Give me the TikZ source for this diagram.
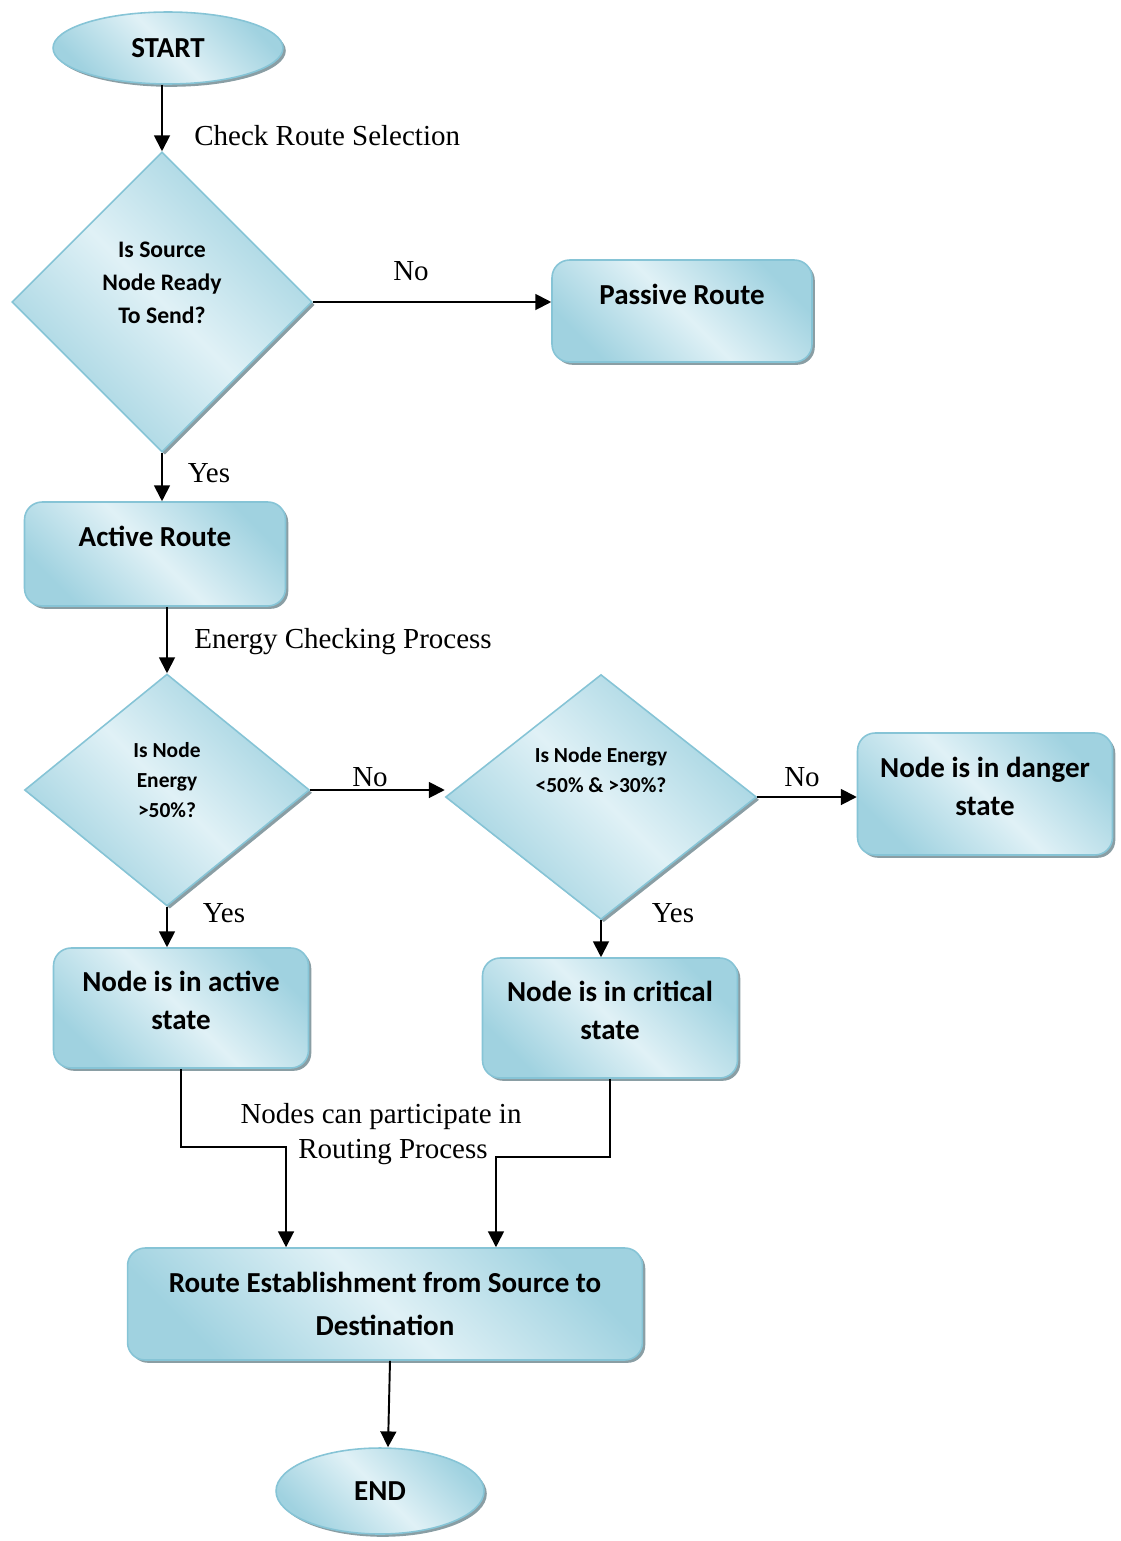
\documentclass[tikz,border=0pt]{standalone}
\usepackage{fontspec}
\setmainfont{Liberation Serif}
\newfontfamily\calib{Carlito}
\usetikzlibrary{shapes.geometric,shadows,arrows.meta}

\definecolor{edgeblue}{RGB}{134,196,214}
\definecolor{darkblue}{RGB}{160,210,224}
\definecolor{lightblue}{RGB}{224,241,246}
\definecolor{shadowgray}{RGB}{138,158,164}

\tikzset{
  blockfill/.style={draw=edgeblue, line width=0.9pt, top color=darkblue, bottom color=darkblue,
    middle color=lightblue, shading angle=-45,
    drop shadow={shadow xshift=1.6pt, shadow yshift=-1.6pt, fill=shadowgray, opacity=1}},
  terminal/.style={ellipse, blockfill, inner sep=0pt, font=\calib\bfseries\fontsize{16.5}{20}\selectfont},
  process/.style={rectangle, rounded corners=10pt, blockfill, align=center,
    font=\calib\bfseries\fontsize{16.5}{21.5}\selectfont},
  decision/.style={diamond, blockfill, align=center, inner sep=0pt,
    font=\calib\bfseries\fontsize{12.2}{17}\selectfont},
  flow/.style={-{Triangle[length=9pt,width=9pt]}, line width=1.1pt},
  lbl/.style={inner sep=0pt, font=\fontsize{16.5}{19.5}\selectfont},
}

\begin{document}
\begin{tikzpicture}[x=0.02cm, y=-0.02cm]
  \useasboundingbox (0,0) rectangle (1120,1541);

  \node[terminal, minimum width=4.6cm, minimum height=1.44cm] (start) at (168,48) {START};
  \node[decision, minimum width=6cm, minimum height=6cm, text depth=0.76cm,
    font=\calib\bfseries\fontsize{13.5}{18.7}\selectfont] (src) at (162,302) {Is Source\\Node Ready\\To Send?};
  \node[process, minimum width=5.2cm, minimum height=2.04cm, text depth=0.68cm] (pas) at (682,311) {Passive Route};
  \node[process, minimum width=5.22cm, minimum height=2.08cm, text depth=0.72cm] (ar) at (155,554) {Active Route};
  \node[decision, aspect=1.23, minimum width=5.7cm, minimum height=4.64cm, text depth=0.4cm] (e50) at (167,790) {Is Node\\Energy\\>50\%?};
  \node[decision, aspect=1.27, minimum width=6.22cm, minimum height=4.9cm, text depth=1.08cm] (e30) at (601,797) {Is Node Energy\\<50\% \& >30\%?};
  \node[process, minimum width=5.1cm, minimum height=2.44cm, text depth=0.32cm] (dgr) at (985,794) {Node is in danger\\state};
  \node[process, minimum width=5.1cm, minimum height=2.4cm, text depth=0.32cm] (act) at (181,1008) {Node is in active\\state};
  \node[process, minimum width=5.1cm, minimum height=2.4cm, text depth=0.32cm] (crit) at (610,1018) {Node is in critical\\state};
  \node[process, minimum width=10.3cm, minimum height=2.24cm,
    font=\calib\bfseries\fontsize{16.5}{24}\selectfont] (est) at (385,1304) {Route Establishment from Source to\\Destination};
  \node[terminal, minimum width=4.16cm, minimum height=1.72cm] (stop) at (380,1491) {END};

  \node[lbl, anchor=west] (chk) at (194,136) {Check Route Selection};
  \node[lbl] (no1) at (411,271) {No};
  \node[lbl] (yes1) at (209,473) {Yes};
  \node[lbl, anchor=west] (enc) at (194,642) {Energy Checking Process};
  \node[lbl] (no2) at (370,777) {No};
  \node[lbl] (no3) at (802,777) {No};
  \node[lbl] (yes2) at (224,913) {Yes};
  \node[lbl] (yes3) at (673,913) {Yes};
  \node[lbl, align=center] (part) at (381,1134) {Nodes can participate in\\\hspace*{0.48cm}Routing Process};

  \draw[flow] (start.south -| src.north) -- (src.north);
  \draw[flow] (src.east) -- (src.east -| pas.west);
  \draw[flow] (src.south) -- (src.south |- ar.north);
  \draw[flow] (ar.south -| e50.north) -- (e50.north);
  \draw[flow] (e50.east) -- (e50.east -| e30.west);
  \draw[flow] (e30.east) -- (e30.east -| dgr.west);
  \draw[flow] (e50.south) -- (e50.south |- act.north);
  \draw[flow] (e30.south) -- (e30.south |- crit.north);
  \draw[flow] (act.south) -- ++(0,78) -| ([xshift=-1.98cm]est.north);
  \draw[flow] (crit.south) -- ++(0,78) -| ([xshift=2.22cm]est.north);
  \draw[flow] ([xshift=0.1cm]est.south) -- ([xshift=0.16cm]stop.north);
\end{tikzpicture}
\end{document}
